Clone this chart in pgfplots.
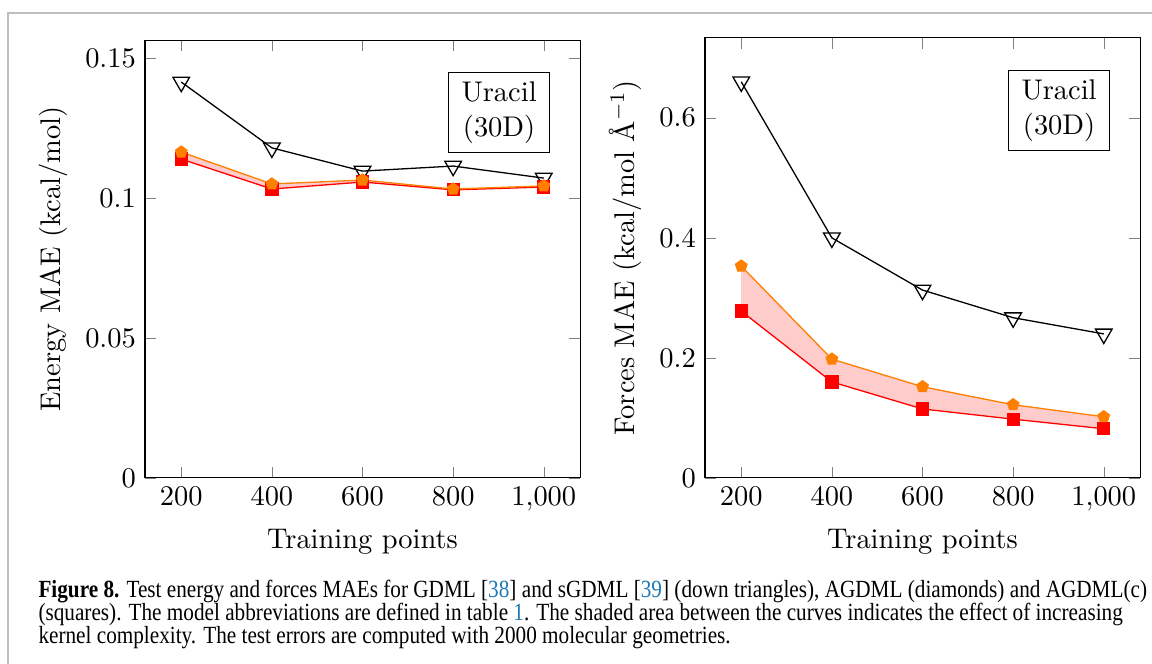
\documentclass[border=0pt]{standalone}
\usepackage{fontspec}
\usepackage{pgfplots}
\pgfplotsset{compat=1.18}
\usepgfplotslibrary{fillbetween}
\newfontfamily\capfont[FakeStretch=0.86]{Liberation Serif}
\definecolor{citeblue}{RGB}{30,120,180}
\definecolor{framegray}{RGB}{190,190,190}

\pgfplotsset{
  maeaxis/.style={
    scale only axis,
    width=167.5pt,
    xmin=120, xmax=1080,
    ymin=0,
    xtick={200,400,600,800,1000},
    xlabel={Training points},
    font=\fontsize{10.95}{13.6}\selectfont,
    every axis plot/.append style={line width=0.5pt},
  },
  gdml/.style={black, mark=triangle, mark size=3.7pt, mark options={rotate=180, fill=white, solid}},
  agdml/.style={orange, mark=pentagon*, mark size=2.3pt, mark options={fill=orange}},
  agdmlc/.style={red, mark=square*, mark size=2.3pt, mark options={fill=red}},
}

\begin{document}
\begin{tikzpicture}
% light frame around the figure
\draw[framegray, line width=0.7pt] (387.7pt,179.0pt) -- (-52.7pt,179.0pt) -- (-52.7pt,-71.61pt);

\begin{axis}[maeaxis,
  at={(0pt,0pt)}, anchor=south west,
  height=168.6pt,
  ymax=0.1564,
  ytick={0,0.05,0.1,0.15},
  yticklabels={$0$,$0.05$,$0.1$,$0.15$},
  ylabel={Energy MAE (kcal/mol)},
]
\addplot[gdml] coordinates {(200,0.1414) (400,0.1179) (600,0.1096) (800,0.1114) (1000,0.1071)};
\addplot[agdmlc, name path=lc] coordinates {(200,0.1139) (400,0.1032) (600,0.1057) (800,0.1029) (1000,0.1039)};
\addplot[agdml, name path=la] coordinates {(200,0.1164) (400,0.1050) (600,0.1064) (800,0.1032) (1000,0.1043)};
\addplot[red!20] fill between[of=la and lc];
\node[draw, align=center, inner xsep=5pt, inner ysep=3.5pt, anchor=north east]
  at ([xshift=-11.5pt,yshift=-12.3pt]rel axis cs:1,1) {Uracil\\(30D)};
\end{axis}

\begin{axis}[maeaxis,
  at={(215.6pt,0pt)}, anchor=south west,
  height=169.4pt,
  ymax=0.733,
  ytick={0,0.2,0.4,0.6},
  yticklabels={$0$,$0.2$,$0.4$,$0.6$},
  ylabel={Forces MAE (kcal/mol \AA$^{-1}$)},
]
\addplot[gdml] coordinates {(200,0.660) (400,0.400) (600,0.313) (800,0.267) (1000,0.240)};
\addplot[agdmlc, name path=rc] coordinates {(200,0.278) (400,0.160) (600,0.115) (800,0.098) (1000,0.082)};
\addplot[agdml, name path=ra] coordinates {(200,0.353) (400,0.198) (600,0.152) (800,0.122) (1000,0.102)};
\addplot[red!20] fill between[of=ra and rc];
\node[draw, align=center, inner xsep=5pt, inner ysep=3.5pt, anchor=north east]
  at ([xshift=-11.5pt,yshift=-12.3pt]rel axis cs:1,1) {Uracil\\(30D)};
\end{axis}

% caption
\begin{scope}[every node/.style={anchor=base west, inner sep=0pt, font=\capfont\fontsize{9.5}{9.5}\selectfont}]
\node at (-41.2pt,-46.0pt) {\textbf{Figure 8.} Test energy and forces MAEs for GDML [\textcolor{citeblue}{38}] and sGDML [\textcolor{citeblue}{39}] (down triangles), AGDML (diamonds) and AGDML(c)};
\node at (-41.2pt,-54.9pt) {(squares). The model abbreviations are defined in table \textcolor{citeblue}{1}. The shaded area between the curves indicates the effect of increasing};
\node at (-41.2pt,-63.8pt) {kernel complexity. The test errors are computed with 2000 molecular geometries.};
\end{scope}

\pgfresetboundingbox
\useasboundingbox (-55.825pt,-71.61pt) rectangle (387.7pt,184.03pt);
\end{tikzpicture}
\end{document}
